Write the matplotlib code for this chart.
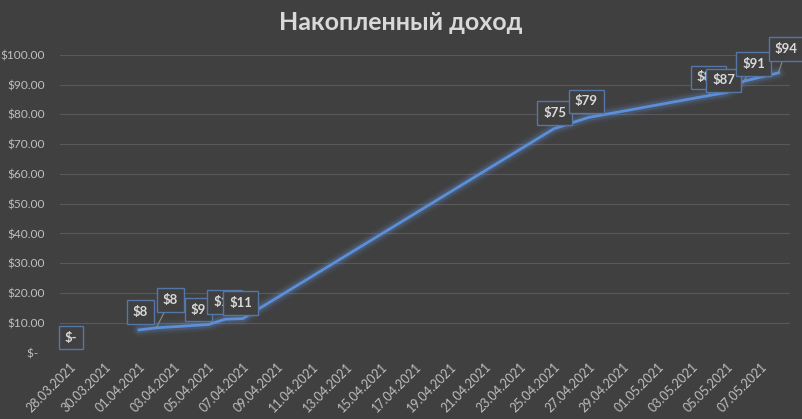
import matplotlib
matplotlib.use("Agg")
import matplotlib.pyplot as plt
import matplotlib.dates as mdates
import pandas as pd
import numpy as np

# ---- data ----
zero_date = "2021-03-28"
zero_value = 0.0
dates = ["2021-04-01", "2021-04-02", "2021-04-05", "2021-04-06", "2021-04-07",
         "2021-04-25", "2021-04-27", "2021-05-04", "2021-05-05", "2021-05-06",
         "2021-05-08"]
values = [7.6, 8.3, 9.4, 11.2, 11.4, 75.2, 79.0, 86.4, 87.4, 91.2, 94.0]
tick_start = "2021-03-28"
tick_end = "2021-05-07"
title = "Накопленный доход"

# label offsets in pixels (position only, dx, dy) and whether to draw a leader line
label_offsets = [(1, 18, False), (14, 28, True), (-10, 15, False), (-1, 17, False),
                 (-2, 16, False), (1, 16, False), (-2, 16, False), (-1, 18, True),
                 (-3, 12, False), (10, 17, True), (8, 24, True)]

BG = "#404040"
GRID = "#595959"
TXT = "#bfbfbf"
LINE = "#5b8fd9"
BOX = "#5577a8"

plt.rcParams['font.family'] = ['Lato', 'DejaVu Sans']

fig = plt.figure(figsize=(8.02, 4.19), dpi=100, facecolor=BG)
ax = fig.add_axes([60/802, 1-352.5/419, 730/802, (352.5-55)/419])
ax.set_facecolor(BG)

x = pd.to_datetime(dates)
xz = pd.to_datetime(zero_date)
base = mdates.date2num(pd.to_datetime(tick_start))

# glow
for lw, a in [(10, 0.05), (7, 0.08), (5, 0.12)]:
    ax.plot(x, values, color="#6fa8ff", lw=lw, alpha=a, solid_capstyle="round", zorder=2)
ax.plot(x, values, color=LINE, lw=2.0, zorder=3, solid_joinstyle="round")

ax.set_ylim(0, 100)
ax.set_xlim(base - 0.58, base + 41.67)
ax.set_yticks(np.arange(0, 101, 10))
ax.set_yticklabels(["$-  "] + [f"${v:.2f}" for v in np.arange(10, 101, 10)])
ticks = pd.date_range(tick_start, tick_end, freq="2D")
ax.set_xticks(ticks)
ax.set_xticklabels([t.strftime("%d.%m.%Y") for t in ticks], rotation=45, ha="right",
                   rotation_mode="anchor")
ax.tick_params(axis="both", length=0, colors=TXT)
ax.tick_params(axis="x", pad=6, labelsize=9)
ax.tick_params(axis="y", pad=11, labelsize=8.6)
ax.grid(axis="y", color=GRID, lw=0.8)
ax.set_axisbelow(True)
for s in ax.spines.values():
    s.set_visible(False)

bbox = dict(boxstyle="square,pad=0.45", fc=BG, ec=BOX, lw=1.0)

def fmt(v):
    return "$-" if v == 0 else f"${v:.0f}"

ax.annotate(fmt(zero_value), (xz, zero_value), xytext=(1, 15), textcoords="offset pixels",
            ha="center", va="center", color="#d9d9d9", fontsize=9.5, fontweight="bold",
            bbox=bbox, zorder=5, annotation_clip=False)

for xi, v, (dx, dy, lead) in zip(x, values, label_offsets):
    ap = dict(arrowstyle="-", color="#8c8c8c", lw=0.8, shrinkA=0, shrinkB=0) if lead else None
    ax.annotate(fmt(v), (xi, v), xytext=(dx, dy), textcoords="offset pixels",
                ha="center", va="center", color="#d9d9d9", fontsize=9.5, fontweight="bold",
                bbox=bbox, arrowprops=ap, zorder=5, annotation_clip=False)

fig.text(0.5, 1-22/419, title, ha="center", va="center", color="#d9d9d9",
         fontsize=18, fontweight="bold")

fig.savefig("out.png", dpi=100, facecolor=BG)
